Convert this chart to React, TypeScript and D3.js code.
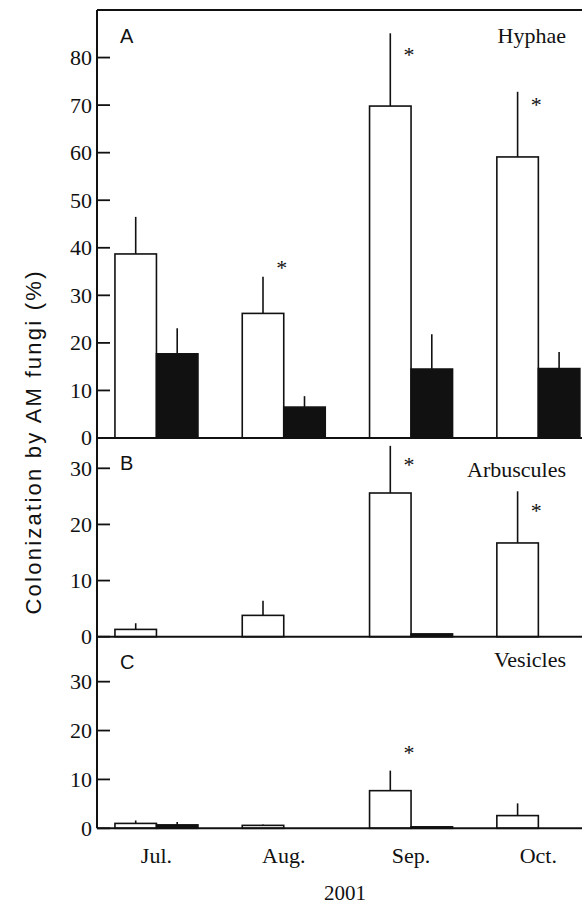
import React from "react";
import * as d3 from "d3";

// months on the x axis
const months = ["Jul.", "Aug.", "Sep.", "Oct."];
const series = ["open", "filled"];

// panel A: hyphae
const hyphaeOpen = [38.7, 26.2, 69.8, 59.1];
const hyphaeOpenSE = [7.8, 7.7, 15.3, 13.7];
const hyphaeFilled = [17.7, 6.5, 14.5, 14.6];
const hyphaeFilledSE = [5.4, 2.3, 7.3, 3.5];
const hyphaeStars = [null, 36.8, 81.6, 71];

// panel B: arbuscules
const arbOpen = [1.3, 3.8, 25.6, 16.7];
const arbOpenSE = [1.1, 2.6, 8.4, 9.2];
const arbFilled = [0, 0, 0.5, 0];
const arbFilledSE = [0, 0, 0, 0];
const arbStars = [null, null, 31.4, 23.3];

// panel C: vesicles
const vesOpen = [1.0, 0.6, 7.7, 2.6];
const vesOpenSE = [0.6, 0.2, 4.1, 2.5];
const vesFilled = [0.7, 0, 0.3, 0];
const vesFilledSE = [0.6, 0, 0, 0];
const vesStars = [null, null, 16.4, null];

const ticksA = [0, 10, 20, 30, 40, 50, 60, 70, 80];
const ticksBC = [0, 10, 20, 30];

const W = 582;
const H = 908;
const axisX = 97;
const serif = "'Liberation Serif', 'Times New Roman', serif";
const sans = "'Liberation Sans', Arial, sans-serif";
const fs = 22;

const panels = [
  { letter: "A", title: "Hyphae", top: 10, bottom: 438, max: 90, ticks: ticksA,
    open: hyphaeOpen, openSE: hyphaeOpenSE, filled: hyphaeFilled, filledSE: hyphaeFilledSE, stars: hyphaeStars },
  { letter: "B", title: "Arbuscules", top: 438, bottom: 636.7, max: 35.4, ticks: ticksBC,
    open: arbOpen, openSE: arbOpenSE, filled: arbFilled, filledSE: arbFilledSE, stars: arbStars },
  { letter: "C", title: "Vesicles", top: 636.7, bottom: 828.3, max: 39.2, ticks: ticksBC,
    open: vesOpen, openSE: vesOpenSE, filled: vesFilled, filledSE: vesFilledSE, stars: vesStars },
];

const x = d3.scaleBand<string>()
  .domain(months)
  .range([axisX, 597.8])
  .paddingInner(0.348)
  .paddingOuter(0.141);

const xs = d3.scaleBand<string>().domain(series).range([0, x.bandwidth()]);

const Panel = ({ p }: { p: any }) => {
  const y = d3.scaleLinear().domain([0, p.max]).range([p.bottom, p.top]);
  return (
    <g>
      {p.ticks.map((t: number) => (
        <g key={t}>
          <line x1={axisX} x2={axisX + 13} y1={y(t)} y2={y(t)} stroke="#111" strokeWidth={1.8} />
          <text x={axisX - 5} y={y(t)} dy="0.34em" textAnchor="end" fontFamily={serif} fontSize={fs} fill="#111">{t}</text>
        </g>
      ))}
      {months.map((m, i) => {
        const bars = [
          { s: "open", v: p.open[i], se: p.openSE[i] },
          { s: "filled", v: p.filled[i], se: p.filledSE[i] },
        ];
        return (
          <g key={m}>
            {bars.map(b => {
              const bx = (x(m) as number) + (xs(b.s) as number);
              const bw = xs.bandwidth();
              if (b.v <= 0) return null;
              return (
                <g key={b.s}>
                  {b.se > 0 && (
                    <line x1={bx + bw / 2} x2={bx + bw / 2} y1={y(b.v)} y2={y(b.v + b.se)} stroke="#111" strokeWidth={1.6} />
                  )}
                  <rect x={bx} y={y(b.v)} width={bw} height={y(0) - y(b.v)}
                    fill={b.s === "open" ? "#fff" : "#111"} stroke="#111" strokeWidth={1.6} />
                </g>
              );
            })}
            {p.stars[i] != null && (
              <text x={(x(m) as number) + xs.bandwidth() - 2} y={y(p.stars[i])} dy={12} textAnchor="middle"
                fontFamily={serif} fontSize={fs} fill="#111">*</text>
            )}
          </g>
        );
      })}
      <line x1={axisX} x2={W} y1={p.bottom} y2={p.bottom} stroke="#111" strokeWidth={2} />
      <text x={120} y={p.top === 10 ? 43 : p.top + 32} fontFamily={sans} fontSize={20} fill="#111">{p.letter}</text>
      <text x={566} y={p.top === 10 ? 43 : p.top + (p.letter === "B" ? 39 : 30)} textAnchor="end" fontFamily={serif} fontSize={fs} fill="#111">{p.title}</text>
    </g>
  );
};

export default function App() {
  return (
    <svg width={W} height={H} style={{ position: "absolute", left: 0, top: 0, background: "#fff" }}>
      <rect width={W} height={H} fill="#fff" />
      {panels.map(p => <Panel key={p.letter} p={p} />)}
      <line x1={axisX} x2={axisX} y1={10} y2={828.3} stroke="#111" strokeWidth={2} />
      <line x1={axisX} x2={W} y1={10} y2={10} stroke="#111" strokeWidth={2} />
      {months.map(m => (
        <text key={m} x={(x(m) as number) + x.bandwidth() / 2} y={863} textAnchor="middle" fontFamily={serif} fontSize={fs} fill="#111">{m}</text>
      ))}
      <text x={345} y={900} textAnchor="middle" fontFamily={serif} fontSize={21} fill="#111">2001</text>
      <text transform="translate(41,443) rotate(-90)" textAnchor="middle" fontFamily={sans} fontSize={22}
        textLength={343} lengthAdjust="spacing" fill="#111">Colonization by AM fungi (%)</text>
    </svg>
  );
}
